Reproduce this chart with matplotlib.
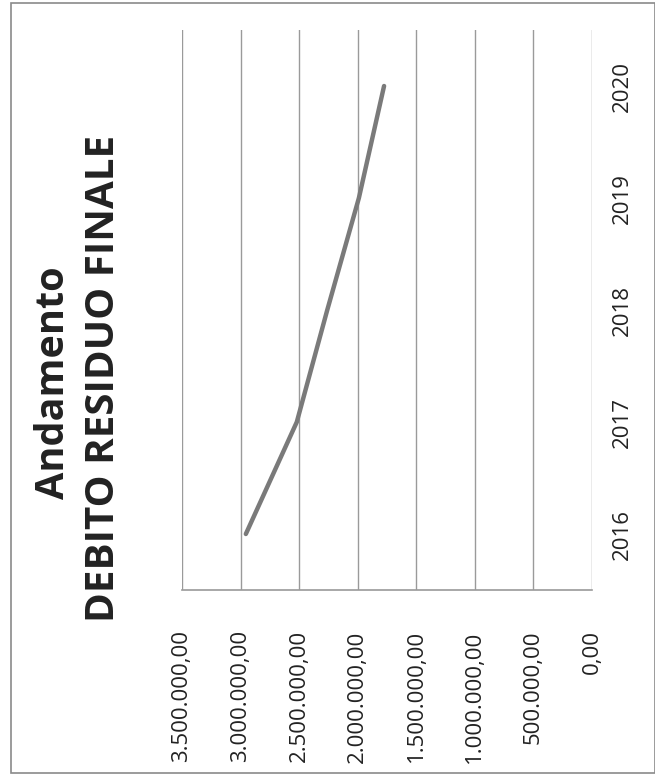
import matplotlib.pyplot as plt
from matplotlib.patches import Rectangle

years = ['2016', '2017', '2018', '2019', '2020']
debito = [2955000, 2520000, 2260000, 1990000, 1775000]
value_ticks = [3500000, 3000000, 2500000, 2000000, 1500000, 1000000, 500000, 0]


def fmt_it(v):
    # 3500000 -> 3.500.000,00
    return f'{v:,.2f}'.replace(',', 'X').replace('.', ',').replace('X', '.')


W, H = 655, 779
fig = plt.figure(figsize=(W / 100, H / 100), dpi=100)
fig.patch.set_facecolor('white')

# outer chart border
fig.patches.append(Rectangle((11 / W, 6 / H), 644 / W, 770 / H, transform=fig.transFigure,
                             fill=False, edgecolor='#8a8a8a', linewidth=1.2))

# chart is rotated: values run right-to-left, years bottom-to-top
ax = fig.add_axes([182 / W, (H - 590) / H, (592 - 182) / W, (590 - 30) / H])
pos = list(range(len(years)))
ax.plot(debito, pos, color='#7a7a7a', linewidth=3.2, solid_capstyle='round')

ax.set_xlim(3500000, 0)
ax.set_ylim(-0.5, len(years) - 0.5)
ax.set_xticks(value_ticks)
ax.set_xticklabels([fmt_it(v) for v in value_ticks], rotation=90,
                   fontsize=16, family='Open Sans', color='#222222')
ax.set_yticks(pos)
ax.set_yticklabels(years, rotation=90, va='center', fontsize=16,
                   family='Open Sans', color='#222222')
ax.yaxis.tick_right()
ax.tick_params(axis='x', length=0, pad=29)
ax.tick_params(axis='y', length=0, pad=14)
ax.grid(axis='x', color='#9a9a9a', linewidth=1.0)
for s in ['top', 'left', 'right']:
    ax.spines[s].set_visible(False)
ax.spines['bottom'].set_color('#9a9a9a')
ax.spines['bottom'].set_linewidth(1.2)

fig.text(54 / W, 1 - 383 / H, 'Andamento', rotation=90, ha='center', va='center',
         fontsize=28.5, fontweight='bold', family='Open Sans', color='#222222')
fig.text(104 / W, 1 - 378 / H, 'DEBITO RESIDUO FINALE', rotation=90, ha='center', va='center',
         fontsize=29, fontweight='bold', family='Open Sans', color='#222222')

fig.savefig('out.png', dpi=100)
